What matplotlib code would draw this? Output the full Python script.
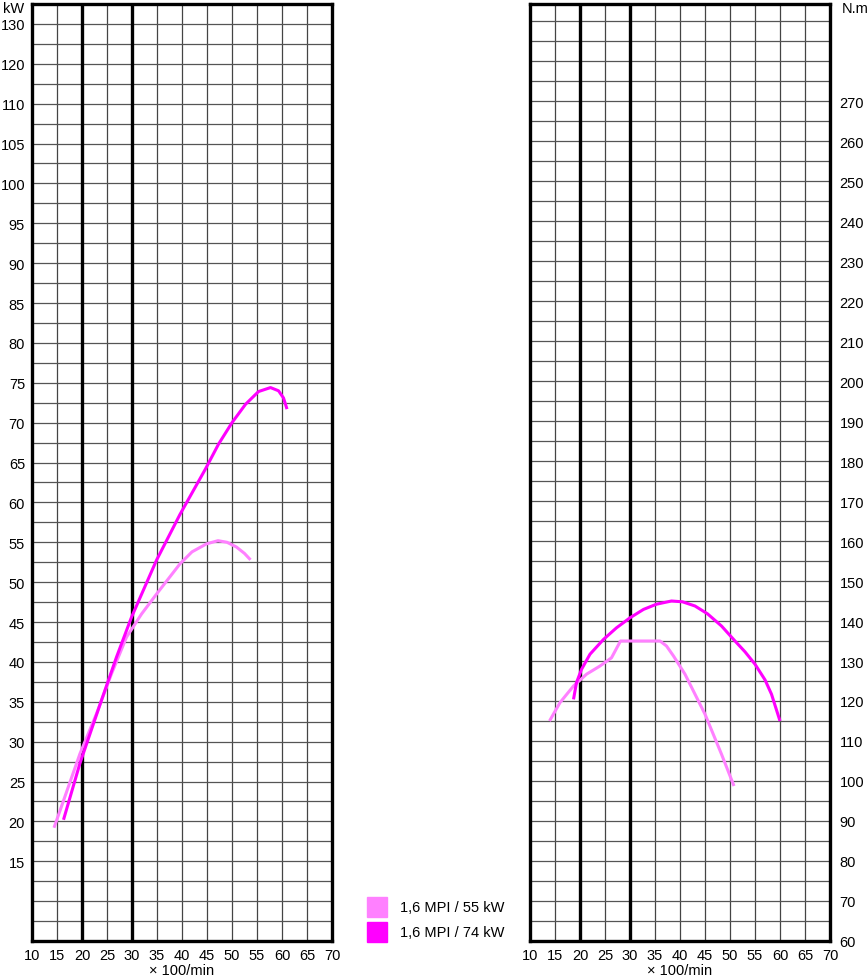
import numpy as np
import matplotlib
matplotlib.use("Agg")
import matplotlib.pyplot as plt
from matplotlib.patches import Rectangle

plt.rcParams["font.family"] = ["Liberation Sans", "DejaVu Sans"]

# Leistung (kW) ueber Drehzahl (x 100/min)
rpm_p55 = [14.4, 19.6, 22.9, 25.9, 28.9, 31.9, 34.9, 39.6, 42.0, 44.9, 47.2, 49.0, 50.9, 52.5, 53.7]
kw_p55 = [19.2, 28.5, 33.5, 38.5, 43.1, 46.0, 48.5, 52.3, 53.8, 54.8, 55.2, 55.0, 54.4, 53.6, 52.8]

rpm_p74 = [16.3, 19.6, 23.9, 26.9, 29.9, 34.9, 39.6, 44.7, 47.3, 50.0, 52.7, 55.3, 57.7, 59.3, 60.3, 61.0]
kw_p74 = [20.2, 27.3, 35.2, 40.6, 45.6, 52.75, 58.5, 64.2, 67.3, 70.0, 72.3, 73.9, 74.4, 74.0, 73.1, 71.7]

# Drehmoment (N.m) ueber Drehzahl
rpm_t55 = [13.9, 16.0, 18.7, 21.3, 24.0, 26.3, 27.2, 28.1, 36.0, 37.3, 38.7, 41.0, 45.0, 48.3, 50.8]
nm_t55 = [115.0, 119.6, 123.75, 126.7, 128.75, 130.8, 132.9, 135.0, 135.0, 133.75, 131.25, 126.7, 116.7, 106.7, 98.75]

rpm_t74 = [18.7, 19.3, 20.3, 22.0, 24.7, 27.3, 30.0, 32.7, 35.3, 38.3, 40.5, 43.0, 45.5, 48.3, 51.0, 53.0, 55.0, 57.0, 58.3, 60.0]
nm_t74 = [120.4, 124.6, 127.9, 131.7, 135.4, 138.3, 140.8, 142.9, 144.2, 145.0, 144.8, 143.75, 141.8, 138.75, 135.0, 132.3, 129.2, 125.3, 121.7, 115.0]

x_ticks = list(range(10, 75, 5))
kw_ticks = list(range(15, 115, 5)) + [120, 130]
nm_ticks = list(range(60, 280, 10))

labels = ["1,6 MPI / 55 kW", "1,6 MPI / 74 kW"]
c_light = "#ff80ff"
c_dark = "#ff00ff"


# kW-Achse: oberhalb 110 kW gestaucht
def fwd(y):
    y = np.asarray(y, dtype=float)
    return np.where(y <= 110, y, 110 + (y - 110) / 2)


def inv(v):
    v = np.asarray(v, dtype=float)
    return np.where(v <= 110, v, 110 + (v - 110) * 2)


fig = plt.figure(figsize=(8.67, 9.78), dpi=100)
W, H = 867, 978
ax1 = fig.add_axes([32 / W, 1 - 942 / H, 300 / W, 937 / H])
ax2 = fig.add_axes([530 / W, 1 - 942 / H, 300 / W, 937 / H])
fs = 10.5


def grid(ax, hlines):
    for x in range(15, 70, 5):
        if x in (20, 30):
            ax.axvline(x, color="black", lw=2.4, zorder=2)
        else:
            ax.axvline(x, color="#444444", lw=0.9, zorder=1)
    for y in hlines:
        ax.axhline(y, color="#555555", lw=0.9, zorder=1)
    for s in ax.spines.values():
        s.set_linewidth(2.4)
        s.set_color("black")
    ax.set_xlim(10, 70)
    ax.set_xticks(x_ticks)
    ax.tick_params(length=0, labelsize=fs)
    ax.tick_params(axis="x", pad=5)


# linkes Diagramm: Leistung
ax1.set_yscale("function", functions=(fwd, inv))
ax1.set_ylim(5, 135)
grid(ax1, list(np.arange(7.5, 110.1, 2.5)) + [115, 120, 125, 130])
ax1.set_yticks(kw_ticks)
ax1.set_yticklabels([str(t) for t in kw_ticks])
ax1.yaxis.set_minor_locator(matplotlib.ticker.NullLocator())
ax1.tick_params(axis="y", pad=5)
ax1.plot(rpm_p55, kw_p55, color=c_light, lw=2.2, zorder=3, solid_capstyle="butt")
ax1.plot(rpm_p74, kw_p74, color=c_dark, lw=2.2, zorder=3, solid_capstyle="butt")

# rechtes Diagramm: Drehmoment
ax2.set_ylim(60, 294.25)
grid(ax2, np.arange(65, 295, 5))
ax2.yaxis.tick_right()
ax2.set_yticks(nm_ticks)
ax2.tick_params(axis="y", pad=7)
ax2.plot(rpm_t55, nm_t55, color=c_light, lw=2.2, zorder=3, solid_capstyle="butt")
ax2.plot(rpm_t74, nm_t74, color=c_dark, lw=2.2, zorder=3, solid_capstyle="butt")

# Beschriftungen
fig.text(182 / W, 1 - 971 / H, "× 100/min", ha="center", va="center", fontsize=fs)
fig.text(680 / W, 1 - 971 / H, "× 100/min", ha="center", va="center", fontsize=fs)
fig.text(14 / W, 1 - 9 / H, "kW", ha="center", va="center", fontsize=fs)
fig.text(842 / W, 1 - 9 / H, "N.m", ha="left", va="center", fontsize=fs)

# Legende
for i, (lab, col) in enumerate(zip(labels, [c_light, c_dark])):
    top = 898 + i * 25
    fig.patches.append(Rectangle((367 / W, 1 - (top + 20) / H), 20 / W, 20 / H,
                                 transform=fig.transFigure, color=col, figure=fig))
    fig.text(400 / W, 1 - (top + 10) / H, lab, ha="left", va="center", fontsize=fs)

fig.savefig("out.png", dpi=100)
